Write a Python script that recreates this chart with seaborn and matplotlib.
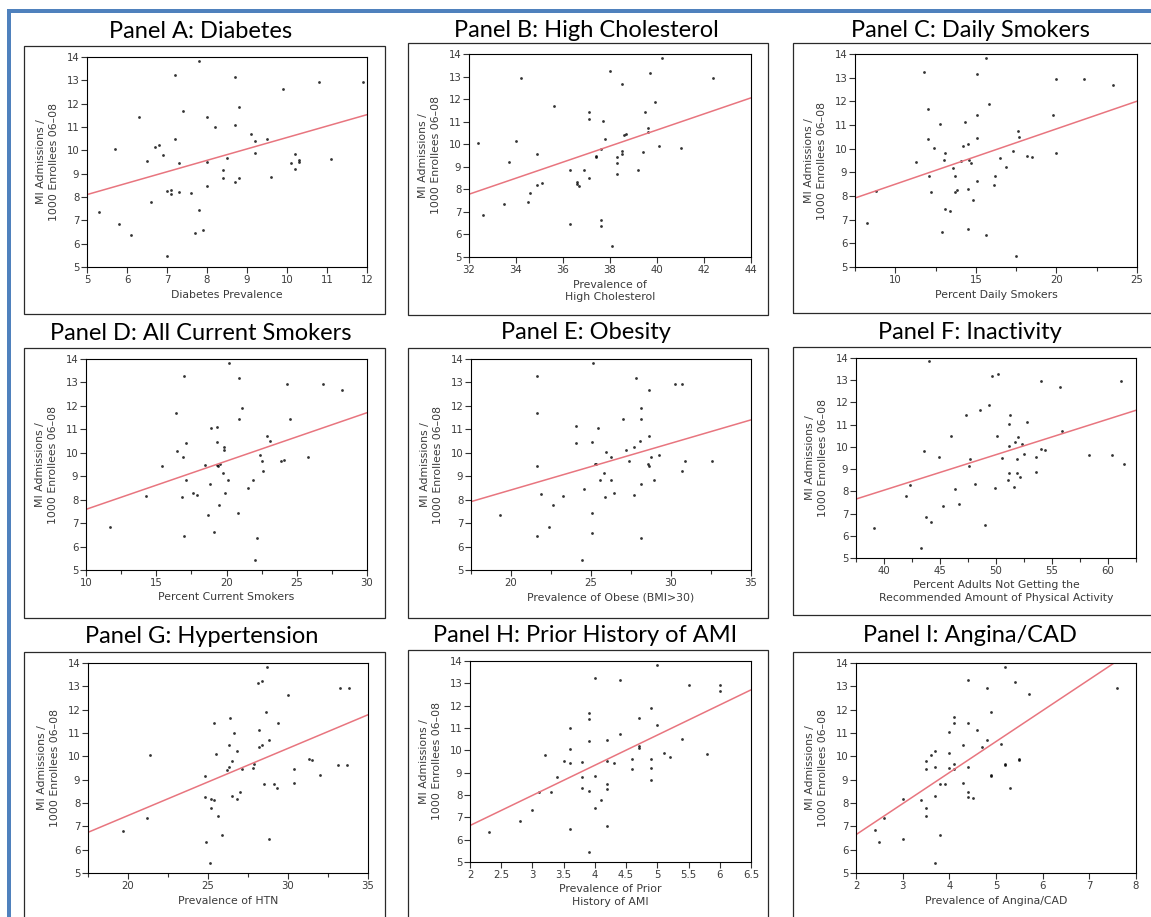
import numpy as np
import pandas as pd
import matplotlib
matplotlib.use("Agg")
import matplotlib.pyplot as plt
from matplotlib.patches import Rectangle
from matplotlib.ticker import MultipleLocator, FuncFormatter
import seaborn as sns

# ---------------- data ----------------
Y_LABEL = "MI Admissions /\n1000 Enrollees 06\u201308"

titles = ["Panel A: Diabetes", "Panel B: High Cholesterol", "Panel C: Daily Smokers",
          "Panel D: All Current Smokers", "Panel E: Obesity", "Panel F: Inactivity",
          "Panel G: Hypertension", "Panel H: Prior History of AMI", "Panel I: Angina/CAD"]

xlabels = ["Diabetes Prevalence", "Prevalence of\nHigh Cholesterol", "Percent Daily Smokers",
           "Percent Current Smokers", "Prevalence of Obese (BMI>30)",
           "Percent Adults Not Getting the\nRecommended Amount of Physical Activity",
           "Prevalence of HTN", "Prevalence of Prior\nHistory of AMI", "Prevalence of Angina/CAD"]

diabetes_x = [7.8, 7.2, 8.7, 10.8, 11.9, 9.9, 8.8, 7.4, 6.3, 8.0, 8.2, 8.7, 9.1, 7.2, 9.5, 9.2, 6.8, 6.7, 5.7, 9.2,
              10.2, 6.9, 8.5, 11.1, 10.3, 10.3, 6.5, 8.0, 7.3, 10.1, 10.2, 8.4, 8.4, 8.8, 9.6, 8.7, 8.0, 7.0, 7.1, 7.1,
              7.3, 7.6, 6.6, 7.8, 5.3, 5.8, 7.7, 7.9, 6.1, 7.0]
diabetes_y = [13.81, 13.25, 13.15, 12.93, 12.93, 12.65, 11.87, 11.67, 11.41, 11.43, 11.0, 11.1, 10.7, 10.47, 10.5,
              10.41, 10.21, 10.13, 10.04, 9.89, 9.83, 9.79, 9.69, 9.64, 9.6, 9.51, 9.53, 9.49, 9.44, 9.44, 9.21, 9.14,
              8.81, 8.81, 8.84, 8.64, 8.49, 8.26, 8.31, 8.11, 8.21, 8.17, 7.8, 7.44, 7.36, 6.83, 6.46, 6.6, 6.36, 5.46]

chol_x = [40.2, 38.0, 39.7, 34.2, 42.4, 38.5, 39.9, 35.6, 37.1, 39.5, 37.1, 37.7, 39.6, 39.6, 38.7, 38.6, 37.8, 32.4,
          34.0, 40.1, 41.0, 37.6, 38.5, 38.5, 39.4, 37.4, 37.4, 38.3, 34.9, 33.7, 38.3, 36.3, 36.9, 39.2, 37.1, 38.3,
          36.6, 36.6, 36.7, 35.1, 34.9, 34.6, 34.5, 33.5, 32.6, 36.3, 37.6, 37.6, 38.1]
chol_y = [13.82, 13.26, 13.17, 12.93, 12.93, 12.67, 11.89, 11.69, 11.43, 11.43, 11.14, 11.02, 10.72, 10.52, 10.47,
          10.43, 10.23, 10.06, 10.13, 9.91, 9.85, 9.8, 9.7, 9.55, 9.64, 9.49, 9.45, 9.45, 9.55, 9.23, 9.17, 8.84, 8.84,
          8.85, 8.5, 8.66, 8.32, 8.23, 8.14, 8.28, 8.17, 7.82, 7.46, 7.37, 6.85, 6.48, 6.63, 6.38, 5.47]

daily_x = [15.6, 11.8, 15.1, 20.0, 21.7, 23.5, 15.8, 12.0, 15.1, 19.8, 14.3, 12.8, 17.6, 17.7, 15.1, 12.0, 14.5, 14.2,
           12.4, 17.3, 20.0, 13.1, 18.2, 16.5, 18.5, 13.0, 14.6, 14.1, 14.7, 11.3, 13.6, 16.9, 13.7, 16.2, 12.1, 15.1,
           16.1, 14.5, 13.8, 13.7, 12.2, 8.8, 14.8, 13.1, 13.4, 8.25, 12.9, 14.5, 15.6, 17.5]
daily_y = [13.83, 13.26, 13.16, 12.94, 12.94, 12.67, 11.89, 11.67, 11.43, 11.43, 11.14, 11.04, 10.73, 10.51, 10.46,
           10.39, 10.2, 10.1, 10.03, 9.9, 9.8, 9.8, 9.68, 9.6, 9.63, 9.54, 9.52, 9.5, 9.4, 9.45, 9.17, 9.24, 8.84,
           8.84, 8.83, 8.64, 8.47, 8.29, 8.25, 8.19, 8.15, 8.2, 7.81, 7.45, 7.38, 6.86, 6.49, 6.62, 6.35, 5.45]

current_x = [20.2, 17.0, 20.9, 24.3, 26.9, 28.2, 21.1, 16.4, 20.9, 24.5, 19.3, 18.9, 22.9, 23.1, 19.3, 17.1, 19.8,
             19.8, 16.5, 22.4, 16.9, 25.8, 24.1, 23.9, 22.5, 18.5, 19.55, 19.3, 19.4, 15.4, 22.6, 19.75, 17.1, 20.1,
             21.9, 18.85, 21.5, 17.6, 17.9, 19.9, 16.8, 14.3, 19.45, 20.8, 18.7, 11.7, 17.0, 19.1, 22.2, 22.05]
current_y = [13.83, 13.27, 13.17, 12.95, 12.94, 12.68, 11.89, 11.69, 11.44, 11.45, 11.12, 11.04, 10.72, 10.51, 10.48,
             10.41, 10.23, 10.11, 10.06, 9.91, 9.8, 9.83, 9.69, 9.66, 9.63, 9.49, 9.54, 9.5, 9.43, 9.44, 9.22, 9.14,
             8.82, 8.82, 8.85, 8.65, 8.49, 8.28, 8.22, 8.3, 8.12, 8.16, 7.79, 7.45, 7.35, 6.84, 6.45, 6.61, 6.35, 5.44]

obese_x = [25.15, 21.65, 27.8, 30.25, 30.7, 28.65, 28.15, 21.65, 27.0, 28.15, 24.05, 25.45, 28.65, 28.05, 25.05,
           24.05, 27.7, 27.2, 25.95, 29.25, 26.25, 28.75, 27.35, 30.9, 32.55, 25.25, 25.3, 28.55, 28.65, 21.65, 30.7,
           25.8, 25.55, 26.25, 28.95, 28.15, 24.55, 26.45, 21.85, 27.7, 25.85, 23.25, 22.6, 25.05, 19.3, 22.4, 21.65,
           25.05, 28.15, 24.45]
obese_y = [13.84, 13.27, 13.17, 12.95, 12.95, 12.68, 11.89, 11.69, 11.44, 11.44, 11.14, 11.04, 10.72, 10.51, 10.47,
           10.41, 10.23, 10.11, 10.04, 9.9, 9.8, 9.83, 9.67, 9.63, 9.64, 9.54, 9.52, 9.53, 9.44, 9.44, 9.21, 9.14,
           8.82, 8.82, 8.85, 8.65, 8.47, 8.3, 8.26, 8.22, 8.12, 8.16, 7.78, 7.45, 7.35, 6.82, 6.45, 6.59, 6.35, 5.44]

inactive_x = [44.0, 49.6, 50.2, 54.05, 61.2, 55.75, 49.35, 48.6, 47.3, 51.25, 52.8, 51.15, 55.9, 46.0, 50.05, 52.0,
              51.7, 52.3, 51.15, 43.6, 54.05, 54.4, 52.5, 58.3, 60.4, 44.9, 50.5, 53.6, 47.65, 51.9, 47.6, 61.4, 51.2,
              51.9, 53.6, 52.15, 51.1, 42.3, 48.1, 51.6, 46.3, 49.9, 42.0, 46.7, 45.3, 43.75, 44.2, 49.0, 39.1, 43.3]
inactive_y = [13.85, 13.18, 13.28, 12.95, 12.95, 12.68, 11.89, 11.68, 11.43, 11.44, 11.14, 11.04, 10.73, 10.47, 10.5,
              10.43, 10.23, 10.13, 10.05, 9.8, 9.9, 9.84, 9.68, 9.62, 9.65, 9.56, 9.5, 9.54, 9.44, 9.44, 9.16, 9.23,
              8.84, 8.83, 8.86, 8.66, 8.5, 8.27, 8.32, 8.21, 8.12, 8.17, 7.81, 7.45, 7.36, 6.84, 6.61, 6.48, 6.36, 5.46]

htn_x = [28.66, 28.4, 28.1, 33.28, 33.8, 29.97, 28.6, 26.4, 25.4, 29.4, 28.2, 26.6, 28.8, 28.4, 26.3, 28.2, 26.8,
         25.5, 21.4, 31.3, 31.5, 26.5, 27.9, 33.1, 33.7, 27.8, 26.3, 26.2, 27.1, 30.4, 32.0, 24.8, 28.5, 30.4, 29.1,
         29.3, 27.0, 24.8, 26.5, 26.8, 25.2, 25.4, 25.2, 25.6, 21.2, 19.7, 28.8, 25.9, 24.9, 25.1]
htn_y = [13.81, 13.23, 13.16, 12.93, 12.93, 12.65, 11.88, 11.66, 11.42, 11.42, 11.11, 11.02, 10.7, 10.48, 10.47,
         10.4, 10.21, 10.11, 10.04, 9.88, 9.83, 9.78, 9.68, 9.61, 9.63, 9.51, 9.53, 9.43, 9.46, 9.44, 9.21, 9.14,
         8.82, 8.84, 8.82, 8.63, 8.47, 8.26, 8.29, 8.19, 8.16, 8.12, 7.78, 7.44, 7.35, 6.82, 6.45, 6.61, 6.35, 5.44]

ami_x = [4.99, 4.0, 4.4, 5.5, 6.0, 6.0, 4.9, 3.9, 3.9, 4.7, 3.6, 5.0, 4.4, 3.9, 4.2, 5.4, 4.7, 4.7, 3.6, 5.1, 3.2,
         5.8, 5.2, 4.6, 4.9, 3.5, 3.8, 4.2, 3.6, 4.3, 4.9, 4.6, 3.4, 3.8, 4.0, 4.9, 4.2, 4.2, 3.8, 3.9, 3.1, 3.3, 4.1,
         4.0, 3.0, 2.8, 3.6, 4.2, 2.3, 3.9]
ami_y = [13.81, 13.25, 13.15, 12.91, 12.93, 12.66, 11.88, 11.68, 11.42, 11.44, 11.02, 11.12, 10.71, 10.41, 10.45,
         10.5, 10.2, 10.1, 10.04, 9.9, 9.8, 9.83, 9.68, 9.63, 9.62, 9.54, 9.48, 9.53, 9.43, 9.43, 9.22, 9.16, 8.81,
         8.81, 8.83, 8.65, 8.49, 8.26, 8.31, 8.2, 8.14, 8.13, 7.79, 7.44, 7.35, 6.82, 6.46, 6.61, 6.36, 5.45]

angina_x = [5.2, 4.4, 5.4, 4.8, 7.6, 5.7, 4.9, 4.1, 4.1, 4.4, 4.6, 4.0, 4.8, 4.3, 5.1, 4.7, 3.7, 4.0, 3.6, 3.5, 5.5,
            5.5, 5.2, 5.2, 4.1, 3.7, 4.4, 4.0, 4.1, 3.5, 4.9, 4.9, 3.8, 3.9, 4.3, 5.3, 4.4, 3.7, 4.4, 4.5, 3.0, 3.4,
            3.5, 3.5, 2.6, 2.4, 3.8, 3.0, 2.5, 3.7]
angina_y = [13.84, 13.26, 13.17, 12.94, 12.94, 12.67, 11.89, 11.69, 11.44, 11.44, 11.13, 11.04, 10.71, 10.49, 10.51,
            10.41, 10.23, 10.13, 10.04, 9.81, 9.9, 9.84, 9.67, 9.63, 9.66, 9.54, 9.53, 9.49, 9.44, 9.44, 9.21, 9.16,
            8.83, 8.83, 8.84, 8.64, 8.49, 8.29, 8.27, 8.21, 8.17, 8.13, 7.79, 7.44, 7.36, 6.83, 6.61, 6.46, 6.34, 5.44]

xs = [diabetes_x, chol_x, daily_x, current_x, obese_x, inactive_x, htn_x, ami_x, angina_x]
ys = [diabetes_y, chol_y, daily_y, current_y, obese_y, inactive_y, htn_y, ami_y, angina_y]

# axis scales
xlims = [(5, 12), (32, 44), (7.5, 25), (10, 30), (17.5, 35), (37.5, 62.5), (17.5, 35), (2, 6.5), (2, 8)]
xmajor = [1, 2, 5, 5, 5, 5, 5, 0.5, 1]
xminor = [None, None, 2.5, 2.5, 2.5, 2.5, 2.5, None, None]

# ---------------- layout (pixels) ----------------
W, H = 1151, 917
axes_px = [(87, 57, 367, 267), (469, 54, 751, 257), (855, 54, 1137, 267),
           (86, 359, 367, 570), (471, 359, 751, 570), (856, 358, 1136, 558),
           (88, 663, 368, 873), (470, 661, 751, 862), (856, 663, 1136, 873)]
frames_px = [(24, 46, 385, 314), (408, 43, 768, 315), (793, 43, 1160, 313),
             (24, 348, 385, 618), (408, 348, 768, 618), (793, 347, 1160, 615),
             (24, 652, 385, 930), (408, 650, 768, 930), (793, 652, 1160, 930)]
title_pos = [(201, 38), (586, 37), (970, 37),
             (201, 340), (586, 339), (970, 339),
             (202, 643), (585, 642), (970, 642)]

BLUE = "#4f81bd"
LINE_RED = "#e8757f"
TXT = "#3a3a3a"

sns.set_theme(style="ticks")
plt.rcParams["font.family"] = ["DejaVu Sans"]

fig = plt.figure(figsize=(W / 100, H / 100), dpi=100)
fig.patch.set_facecolor("white")


def fx(px):
    return px / W


def fy(py):
    return 1 - py / H


# blue border (top and left)
fig.add_artist(Rectangle((fx(7), fy(13)), fx(W) - fx(7), 4 / H, transform=fig.transFigure,
                         facecolor=BLUE, edgecolor="none", zorder=0))
fig.add_artist(Rectangle((fx(7), fy(H + 5)), 3.5 / W, (H + 5 - 9) / H, transform=fig.transFigure,
                         facecolor=BLUE, edgecolor="none", zorder=0))

for i in range(9):
    l, t, r, b = axes_px[i]
    x0, y0, x1, y1 = frames_px[i]
    fig.add_artist(Rectangle((fx(x0), fy(y1)), (x1 - x0) / W, (y1 - y0) / H, transform=fig.transFigure,
                             fill=False, edgecolor="#2a2a2a", linewidth=0.9, zorder=0))
    cx, cy = title_pos[i]
    fig.text(fx(cx), fy(cy), titles[i], ha="center", va="baseline", fontsize=17,
             family=["Lato", "DejaVu Sans"], color="black")

    ax = fig.add_axes([fx(l), fy(b), (r - l) / W, (b - t) / H])
    ax.set_xlim(*xlims[i])
    ax.set_ylim(5, 14)
    df = pd.DataFrame({"x": xs[i], "y": ys[i]})
    sns.regplot(data=df, x="x", y="y", ax=ax, ci=None, truncate=False,
                scatter_kws=dict(s=4, color="black", linewidths=0),
                line_kws=dict(color=LINE_RED, linewidth=1.1))
    ax.set_xlim(*xlims[i])
    ax.set_ylim(5, 14)

    ax.xaxis.set_major_locator(MultipleLocator(xmajor[i]))
    if xminor[i]:
        ax.xaxis.set_minor_locator(MultipleLocator(xminor[i]))
    ax.xaxis.set_major_formatter(FuncFormatter(lambda v, p: f"{v:g}"))
    ax.yaxis.set_major_locator(MultipleLocator(1))

    ax.tick_params(which="major", direction="out", length=4, width=0.8, color="#333333",
                   labelsize=7.3, labelcolor=TXT, pad=1.5)
    ax.tick_params(which="minor", direction="out", length=3, width=0.8, color="#333333")
    for s in ax.spines.values():
        s.set_visible(True)
        s.set_color("black")
        s.set_linewidth(0.8)

    ax.set_xlabel(xlabels[i], fontsize=7.8, color=TXT, labelpad=3.5, linespacing=1.3)
    ax.set_ylabel(Y_LABEL, fontsize=7.8, color=TXT, labelpad=5.5, linespacing=1.35)
    ax.set_facecolor("white")

fig.savefig("out.png", dpi=100)
